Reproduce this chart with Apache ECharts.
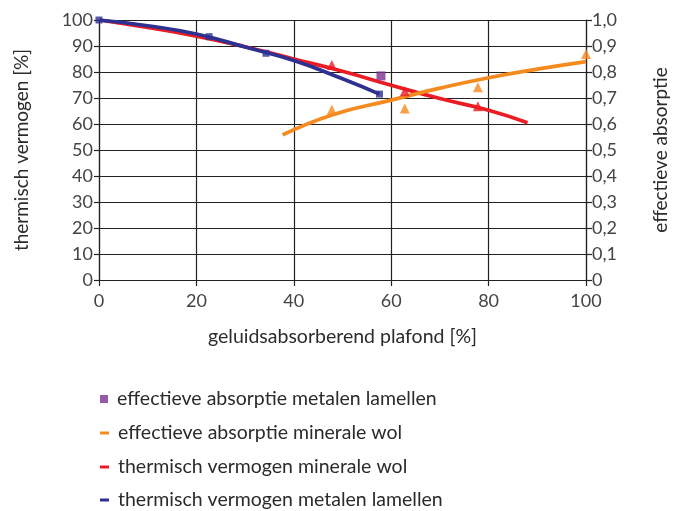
<!DOCTYPE html>
<html><head><meta charset="utf-8">
<script src="https://cdn.jsdelivr.net/npm/echarts@6/dist/echarts.min.js"></script>
<style>html,body{margin:0;padding:0;background:#fff}#c{width:678px;height:511px}</style>
</head><body><div id="c"></div>
<script>
// thermisch vermogen metalen lamellen (left axis, %)
const blueMeasX = [0, 22.6, 34.3, 57.6];
const blueMeasY = [100, 93.6, 87.2, 71.5];
const blueTrendX = [0, 10, 20, 30, 40, 50, 57.6];
const blueTrendY = [100, 97.8, 94.6, 89.6, 84.4, 77.4, 71.5];
// thermisch vermogen minerale wol (left axis, %)
const redMeasX = [47.8, 62.8, 77.8];
const redMeasY = [82.7, 72.6, 66.8];
const redTrendX = [0, 10, 20, 30, 40, 50, 60, 70, 80, 88];
const redTrendY = [100, 97.1, 93.8, 89.7, 85.0, 80.3, 74.9, 69.8, 65.3, 60.5];
// effectieve absorptie minerale wol (right axis)
const orangeMeasX = [47.8, 62.8, 77.8, 100];
const orangeMeasY = [0.655, 0.66, 0.741, 0.869];
const orangeTrendX = [37.7, 48, 60, 70, 80, 90, 100];
const orangeTrendY = [0.558, 0.636, 0.692, 0.738, 0.778, 0.811, 0.84];
// effectieve absorptie metalen lamellen (right axis)
const purpleX = [57.9];
const purpleY = [0.785];

const names = ['effectieve absorptie metalen lamellen','effectieve absorptie minerale wol','thermisch vermogen minerale wol','thermisch vermogen metalen lamellen'];
const zip = (a,b)=>a.map((v,i)=>[v,b[i]]);
const FONT = 'Lato';
const txt = '#2b2b2b';
const C = {blue:'#2e3192', red:'#ec1c24', orange:'#f58a1f', purple:'#7b2f8f'};
const legendCenters = [399, 433, 467, 500];

const mkLegend = (i, w, h) => ({
  orient:'vertical', left:100, top:legendCenters[i]-10, padding:0,
  itemWidth:w, itemHeight:h,
  textStyle:{fontFamily:FONT,fontSize:19.5,lineHeight:20,color:txt,padding:[0,0,0,4]},
  data:[{name:names[i],icon:'rect'}]
});

const chart = echarts.init(document.getElementById('c'), null, {renderer:'canvas'});
chart.setOption({
  animation:false,
  textStyle:{fontFamily:FONT},
  grid:{left:99, right:84, top:20, bottom:231, containLabel:false},
  xAxis:{type:'value', min:0, max:100, interval:20,
    name:'geluidsabsorberend plafond [%]', nameLocation:'middle', nameGap:47,
    nameTextStyle:{fontFamily:FONT,fontSize:19.5,color:txt},
    axisLine:{lineStyle:{color:'#222',width:1.2}},
    axisTick:{show:true,length:6,lineStyle:{color:'#222',width:1.2}},
    axisLabel:{fontFamily:FONT,fontSize:18,color:'#444',margin:12},
    splitLine:{show:true,lineStyle:{color:'#222',width:1.2}}},
  yAxis:[
    {type:'value', min:0, max:100, interval:10, position:'left',
     name:'thermisch vermogen [%]', nameLocation:'middle', nameGap:68, nameRotate:90,
     nameTextStyle:{fontFamily:FONT,fontSize:19,color:txt},
     axisLine:{show:true,lineStyle:{color:'#222',width:1.2}},
     axisTick:{show:true,length:5,lineStyle:{color:'#222',width:1.2}},
     axisLabel:{fontFamily:FONT,fontSize:18,color:'#444',margin:6},
     splitLine:{show:true,lineStyle:{color:'#222',width:1.2}}},
    {type:'value', min:0, max:1, interval:0.1, position:'right',
     name:'effectieve absorptie', nameLocation:'middle', nameGap:65, nameRotate:90,
     nameTextStyle:{fontFamily:FONT,fontSize:19,color:txt},
     axisLine:{show:true,lineStyle:{color:'#222',width:1.2}},
     axisTick:{show:true,length:6,lineStyle:{color:'#222',width:1.2}},
     axisLabel:{fontFamily:FONT,fontSize:18,color:'#444',margin:6,
       formatter:v=> v===0?'0':v.toFixed(1).replace('.',',')},
     splitLine:{show:false}}
  ],
  legend:[ mkLegend(0,8,8), mkLegend(1,9,3), mkLegend(2,9,3), mkLegend(3,9,3) ],
  series:[
    {name:names[2], type:'line', yAxisIndex:0, smooth:true, showSymbol:false, symbol:'none',
     data:zip(redTrendX,redTrendY), lineStyle:{color:C.red,width:3.7}, itemStyle:{color:C.red}, z:3},
    {name:'red pts', type:'scatter', yAxisIndex:0, symbol:'triangle', symbolSize:10,
     data:zip(redMeasX,redMeasY), itemStyle:{color:C.red}, z:4},
    {name:names[1], type:'line', yAxisIndex:1, smooth:true, showSymbol:false, symbol:'none',
     data:zip(orangeTrendX,orangeTrendY), lineStyle:{color:C.orange,width:3.7}, itemStyle:{color:C.orange}, z:3},
    {name:'orange pts', type:'scatter', yAxisIndex:1, symbol:'triangle', symbolSize:10,
     data:zip(orangeMeasX,orangeMeasY), itemStyle:{color:C.orange}, z:4},
    {name:names[3], type:'line', yAxisIndex:0, smooth:true, showSymbol:false, symbol:'none',
     data:zip(blueTrendX,blueTrendY), lineStyle:{color:C.blue,width:3.7}, itemStyle:{color:C.blue}, z:5},
    {name:'blue pts', type:'scatter', yAxisIndex:0, symbol:'rect', symbolSize:7,
     data:zip(blueMeasX,blueMeasY), itemStyle:{color:C.blue}, z:6},
    {name:names[0], type:'scatter', yAxisIndex:1, symbol:'rect', symbolSize:9,
     data:zip(purpleX,purpleY), itemStyle:{color:C.purple}, z:6}
  ]
});
</script></body></html>
